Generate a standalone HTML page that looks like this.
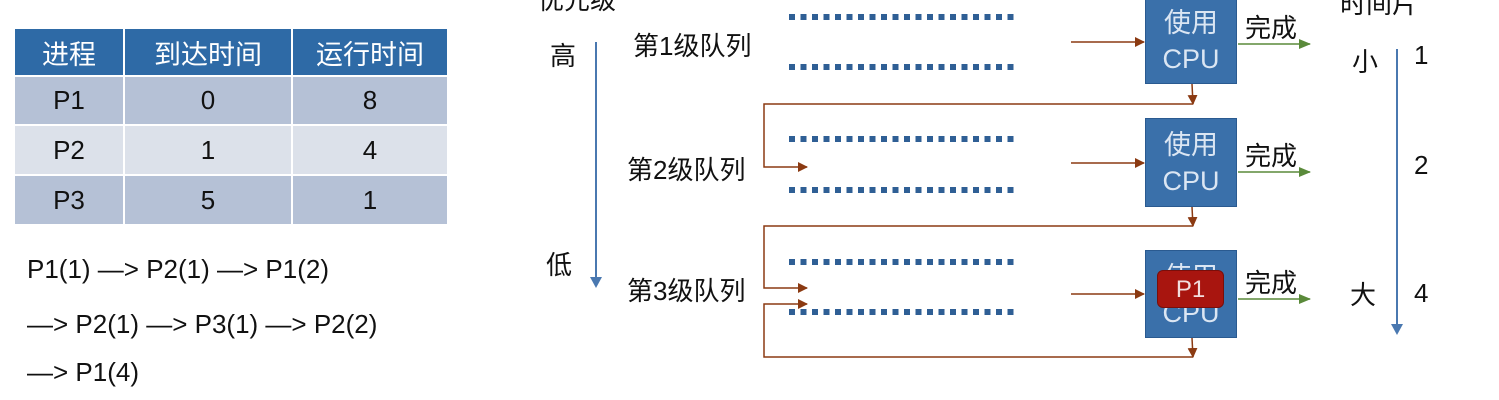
<!DOCTYPE html>
<html><head><meta charset="utf-8"><style>
body{margin:0;width:1499px;height:400px;background:#fff;position:relative;overflow:hidden;font-family:"Liberation Sans","Noto Sans CJK SC",sans-serif;}
.a{position:absolute;white-space:nowrap;}
table{position:absolute;left:15px;top:29px;border-collapse:separate;border-spacing:2px;margin:-2px;}
td{text-align:center;font-size:26px;color:#111;padding:0;}
.h td{background:#2e6aa6;color:#fff;height:46px;font-size:27px;}
.r1 td{background:#b5c1d6;height:47px}.r2 td{background:#dce1ea;height:48px}.r3 td{background:#b5c1d6;height:48px}
.seq{font-size:26px;color:#111;left:27px;}
.cn{font-size:26px;color:#111;}
.cpu{position:absolute;left:1145px;width:92px;background:#3a70aa;border:1px solid #2a5a90;color:#dbe6f3;text-align:center;font-size:27px;line-height:36px;box-sizing:border-box;}
</style></head><body>
<table><tr class="h"><td style="width:108px">进程</td><td style="width:166px">到达时间</td><td style="width:154px">运行时间</td></tr>
<tr class="r1"><td>P1</td><td>0</td><td>8</td></tr>
<tr class="r2"><td>P2</td><td>1</td><td>4</td></tr>
<tr class="r3"><td>P3</td><td>5</td><td>1</td></tr></table>
<div class="a seq" style="top:254px">P1(1) —&gt; P2(1) —&gt; P1(2)</div>
<div class="a seq" style="top:309px">—&gt; P2(1) —&gt; P3(1) —&gt; P2(2)</div>
<div class="a seq" style="top:357px">—&gt; P1(4)</div>

<div class="a cn" style="left:538px;top:-20px">优先级</div>
<div class="a cn" style="left:550px;top:36px">高</div>
<div class="a cn" style="left:546px;top:245px">低</div>
<div class="a cn" style="left:633px;top:26px">第1级队列</div>
<div class="a cn" style="left:627px;top:150px">第2级队列</div>
<div class="a cn" style="left:627px;top:271px">第3级队列</div>
<div class="a cn" style="left:1340px;top:-16px">时间片</div>
<div class="a cn" style="left:1352px;top:42px">小</div>
<div class="a cn" style="left:1350px;top:275px">大</div>
<div class="a cn" style="left:1414px;top:40px">1</div>
<div class="a cn" style="left:1414px;top:150px">2</div>
<div class="a cn" style="left:1414px;top:278px">4</div>
<div class="a cn" style="left:1245px;top:8px">完成</div>
<div class="a cn" style="left:1245px;top:136px">完成</div>
<div class="a cn" style="left:1245px;top:263px">完成</div>

<div class="cpu" style="top:-2px;height:86px;padding-top:6px">使用<br>CPU</div>
<div class="cpu" style="top:118px;height:89px;padding-top:8px">使用<br>CPU</div>
<div class="cpu" style="top:250px;height:88px;padding-top:8px">使用<br>CPU</div>
<div class="a" style="left:1157px;top:270px;width:67px;height:38px;background:#a8150f;border:1px solid #7a0e0a;border-radius:6px;color:#f2dede;font-size:24px;line-height:38px;text-align:center;box-sizing:border-box">P1</div>

<svg class="a" style="left:0;top:0" width="1499" height="400">
<defs>
<pattern id="d" x="789" y="0" width="11.5" height="400" patternUnits="userSpaceOnUse"><rect x="0" y="0" width="6" height="400" fill="#2f5f95"/></pattern>
<marker id="b" markerWidth="10" markerHeight="10" refX="9" refY="5" orient="auto" markerUnits="userSpaceOnUse"><path d="M0,0L10,5L0,10z" fill="#8b3a12"/></marker>
<marker id="g" markerWidth="12" markerHeight="10" refX="11" refY="5" orient="auto" markerUnits="userSpaceOnUse"><path d="M0,0L12,5L0,10z" fill="#5a8a3a"/></marker>
</defs>
<g fill="url(#d)">
<rect x="789" y="14" width="230" height="6"/><rect x="789" y="64" width="230" height="6"/>
<rect x="789" y="136" width="230" height="6"/><rect x="789" y="187" width="230" height="6"/>
<rect x="789" y="259" width="230" height="6"/><rect x="789" y="309" width="230" height="6"/>
</g>
<g stroke="#8b3a12" stroke-width="1.5" fill="none">
<line x1="1071" y1="42" x2="1144" y2="42" marker-end="url(#b)"/>
<line x1="1071" y1="163" x2="1144" y2="163" marker-end="url(#b)"/>
<line x1="1071" y1="294" x2="1144" y2="294" marker-end="url(#b)"/>
<line x1="1192" y1="84" x2="1193" y2="104" marker-end="url(#b)"/>
<line x1="1192" y1="207" x2="1193" y2="226" marker-end="url(#b)"/>
<line x1="1192" y1="338" x2="1193" y2="357" marker-end="url(#b)"/>
<polyline points="1193,104 764,104 764,167 807,167" marker-end="url(#b)"/>
<polyline points="1193,226 764,226 764,288 807,288" marker-end="url(#b)"/>
<polyline points="1193,357 764,357 764,304 807,304" marker-end="url(#b)"/>
</g>
<g stroke="#5a8a3a" stroke-width="1.5">
<line x1="1238" y1="44" x2="1310" y2="44" marker-end="url(#g)"/>
<line x1="1238" y1="172" x2="1310" y2="172" marker-end="url(#g)"/>
<line x1="1238" y1="299" x2="1310" y2="299" marker-end="url(#g)"/>
</g>
<g fill="#4a78b0">
<rect x="595" y="42" width="2" height="236"/><path d="M590,277L602,277L596,288z"/>
<rect x="1396" y="49" width="2" height="276"/><path d="M1391,324L1403,324L1397,335z"/>
</g>
</svg>
</body></html>
